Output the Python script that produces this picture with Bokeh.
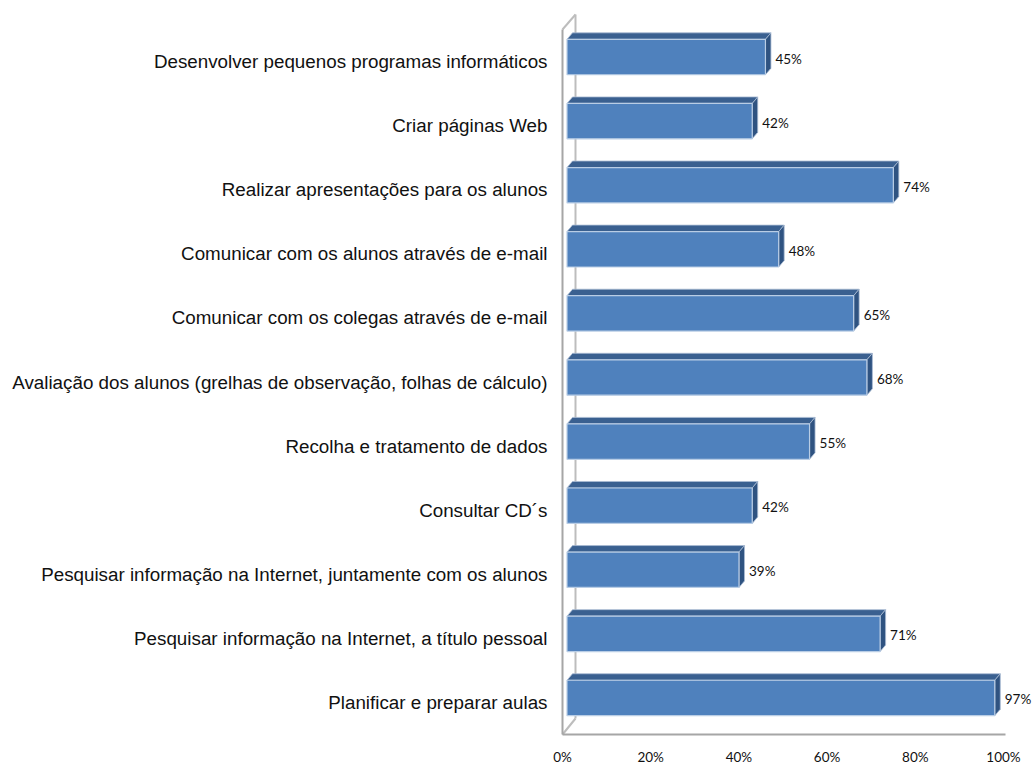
from bokeh.plotting import figure
from bokeh.models import Range1d, FixedTicker, PrintfTickFormatter, ColumnDataSource
from bokeh.core.properties import value
from bokeh.embed import file_html
from bokeh.resources import INLINE

categories = [
    "Desenvolver pequenos programas informáticos",
    "Criar páginas Web",
    "Realizar apresentações para os alunos",
    "Comunicar com os alunos através de e-mail",
    "Comunicar com os colegas através de e-mail",
    "Avaliação dos alunos (grelhas de observação, folhas de cálculo)",
    "Recolha e tratamento de dados",
    "Consultar CD´s",
    "Pesquisar informação na Internet, juntamente com os alunos",
    "Pesquisar informação na Internet, a título pessoal",
    "Planificar e preparar aulas",
]
values = [45, 42, 74, 48, 65, 68, 55, 42, 39, 71, 97]
x_ticks = [0, 20, 40, 60, 80, 100]

n = len(categories)
PX_X = 4.41            # px per percent
PX_Y = 705 / n         # px per band
dx = lambda px: px / PX_X
dy = lambda px: px / PX_Y

PAD_L, PAD_T, PAD_B = 5, 21, 6
FW, FH = 475, 705 + PAD_T + PAD_B

p = figure(width=1024, height=757, output_backend="svg", toolbar_location=None,
           frame_width=FW, frame_height=FH,
           x_range=Range1d(-dx(PAD_L), dx(FW - PAD_L)),
           y_range=Range1d(n + dy(PAD_B), -dy(PAD_T)),
           min_border_left=549, min_border_right=0, min_border_top=0, min_border_bottom=25)
p.background_fill_color = "white"
p.outline_line_color = None
p.grid.visible = False

p.xaxis.ticker = FixedTicker(ticks=x_ticks)
p.xaxis.formatter = PrintfTickFormatter(format="%d%%")
p.xaxis.axis_line_color = None
p.xaxis.major_tick_line_color = None
p.xaxis.major_tick_out = 0
p.xaxis.major_tick_in = 0
p.xaxis.minor_tick_line_color = None
p.xaxis.major_label_text_font = "Lato"
p.xaxis.major_label_text_font_size = "13.5px"
p.xaxis.major_label_text_color = "#111111"
p.xaxis.major_label_standoff = 8

centers = [i + 0.5 for i in range(n)]
p.yaxis.ticker = FixedTicker(ticks=centers)
p.yaxis.major_label_overrides = {c: t for c, t in zip(centers, categories)}
p.yaxis.axis_line_color = None
p.yaxis.major_tick_line_color = None
p.yaxis.major_tick_out = 0
p.yaxis.major_tick_in = 0
p.yaxis.minor_tick_line_color = None
p.yaxis.major_label_text_font = "Liberation Sans"
p.yaxis.major_label_text_font_size = "18.8px"
p.yaxis.major_label_text_color = "#111111"
p.yaxis.major_label_standoff = 10

# 3-D walls
wall = "#A6A6A6"
xmax = x_ticks[-1]
p.multi_line(
    xs=[[dx(13), dx(13)], [0, dx(13)], [0, dx(13)]],
    ys=[[-dy(15), n - dy(16)], [0, -dy(15)], [n, n - dy(16)]],
    line_color="#BDBDBD", line_width=2)
p.multi_line(xs=[[0, 0], [0, xmax + dx(2)]], ys=[[0, n], [n, n]], line_color=wall, line_width=2)

# 3-D bars
ox, oy, hh = dx(4.5), dy(-4.5), dy(17.7)
ddx, ddy = dx(5.5), dy(-6.5)
fronts = ColumnDataSource(dict(
    y=[c + oy for c in centers],
    left=[ox] * n,
    right=[v + ox for v in values],
))
top_x = [[ox, ox + ddx, v + ox + ddx, v + ox] for v in values]
top_y = [[c + oy - hh, c + oy - hh + ddy, c + oy - hh + ddy, c + oy - hh] for c in centers]
side_x = [[v + ox, v + ox + ddx, v + ox + ddx, v + ox] for v in values]
side_y = [[c + oy - hh, c + oy - hh + ddy, c + oy + hh + ddy, c + oy + hh] for c in centers]
p.patches(top_x, top_y, fill_color="#3A6090", line_color="#A9BBD3", line_width=0.8)
p.patches(side_x, side_y, fill_color="#2F5381", line_color="#A9BBD3", line_width=0.8)
p.hbar(y="y", left="left", right="right", height=2 * hh, source=fronts,
       fill_color="#4F81BD", line_color="#B9CDE5", line_width=1.2)

# value labels
p.text(x=[v + ox + dx(10) for v in values], y=[c - dy(3) for c in centers],
       text=[f"{v}%" for v in values],
       text_font=value("Lato"), text_font_size="13.5px", text_color="#111111",
       text_align="left", text_baseline="middle")

html = file_html(p, INLINE)
html = html.replace("</head>", "<style>body{margin:8px 0 0 8px}</style></head>", 1)
open("out.html", "w").write(html)
